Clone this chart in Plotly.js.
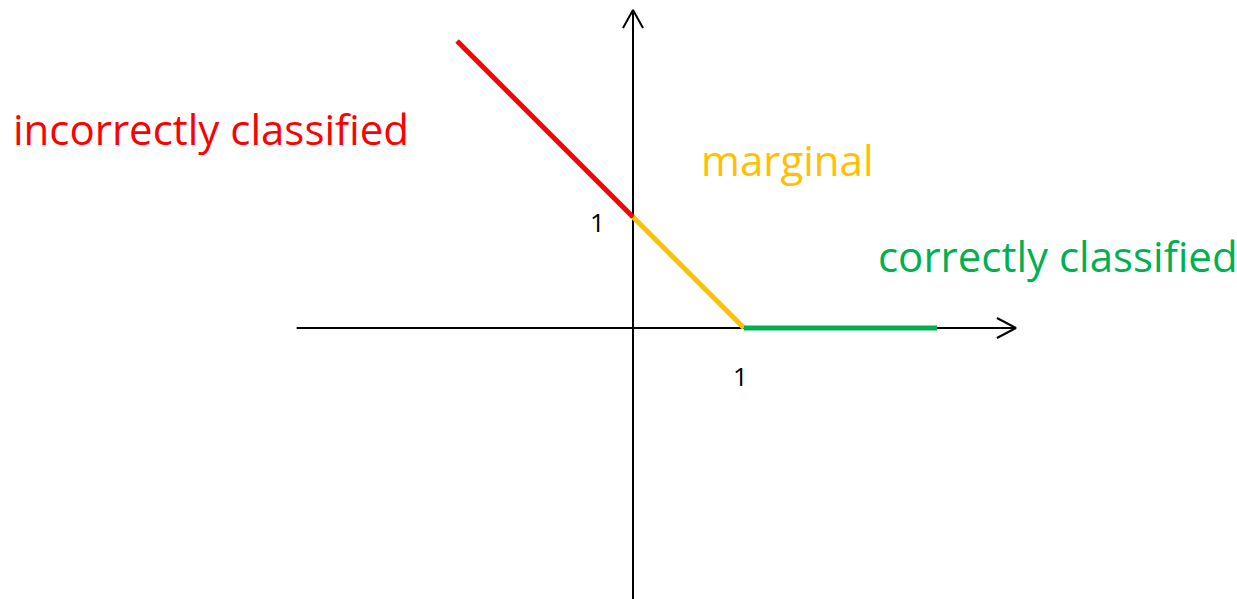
<!DOCTYPE html>
<html>
<head>
<meta charset="utf-8">
<script src="https://cdn.plot.ly/plotly-3.0.1.min.js"></script>
<style>html,body{margin:0;padding:0;background:#fff;}#chart{width:1237px;height:599px;}</style>
</head>
<body>
<div id="chart"></div>
<script>
// ---- data (hinge loss) ----
const redX = [-1.585, 0];
const redY = [2.585, 1];
const yellowX = [0, 1];
const yellowY = [1, 0];
const greenX = [1, 2.74];
const greenY = [0, 0];
const xAxisExtent = [-3.03, 3.45];
const yAxisExtent = [-2.5, 2.865];
const labels = ["incorrectly classified", "marginal", "correctly classified"];
const tickLabels = ["1", "1"];

// ---- layout geometry ----
const W = 1237, H = 599, unit = 111, ox = 633, oy = 328;
const xr = [-ox / unit, (W - ox) / unit];
const yr = [-(H - oy) / unit, oy / unit];
const px = p => p / unit;

const axisStyle = {color: '#000', width: 2};
const traces = [
  {x: xAxisExtent, y: [0, 0], mode: 'lines', line: axisStyle},
  {x: [0, 0], y: yAxisExtent, mode: 'lines', line: axisStyle},
  // arrowheads (open chevrons)
  {x: [xAxisExtent[1] - px(19), xAxisExtent[1], xAxisExtent[1] - px(19)],
   y: [px(10), 0, -px(10)], mode: 'lines', line: axisStyle},
  {x: [-px(10), 0, px(10)],
   y: [yAxisExtent[1] - px(18), yAxisExtent[1], yAxisExtent[1] - px(18)], mode: 'lines', line: axisStyle},
  {x: redX, y: redY, mode: 'lines', line: {color: '#FF0000', width: 5}},
  {x: yellowX, y: yellowY, mode: 'lines', line: {color: '#FFC000', width: 5}},
  {x: greenX, y: greenY, mode: 'lines', line: {color: '#00B050', width: 5}}
];

const font = 'Open Sans, sans-serif';
const layout = {
  width: W, height: H,
  margin: {l: 0, r: 0, t: 0, b: 0},
  paper_bgcolor: '#fff', plot_bgcolor: '#fff',
  showlegend: false,
  xaxis: {range: xr, visible: false, fixedrange: true},
  yaxis: {range: yr, visible: false, fixedrange: true},
  annotations: [
    {text: labels[0], x: px(11 - ox), y: px(oy - 128), xanchor: 'left', yanchor: 'middle', showarrow: false,
     font: {family: font, size: 42, color: '#FF0000'}},
    {text: labels[1], x: px(699 - ox), y: px(oy - 159), xanchor: 'left', yanchor: 'middle', showarrow: false,
     font: {family: font, size: 42, color: '#FFC000'}},
    {text: labels[2], x: px(876 - ox), y: px(oy - 255), xanchor: 'left', yanchor: 'middle', showarrow: false,
     font: {family: font, size: 42, color: '#00B050'}},
    {text: tickLabels[0], x: px(597 - ox), y: px(oy - 222), xanchor: 'center', yanchor: 'middle', showarrow: false,
     font: {family: font, size: 26, color: '#000'}},
    {text: tickLabels[1], x: px(740 - ox), y: px(oy - 376), xanchor: 'center', yanchor: 'middle', showarrow: false,
     font: {family: font, size: 26, color: '#000'}}
  ]
};
Plotly.newPlot('chart', traces, layout, {staticPlot: true, displayModeBar: false});
</script>
</body>
</html>
